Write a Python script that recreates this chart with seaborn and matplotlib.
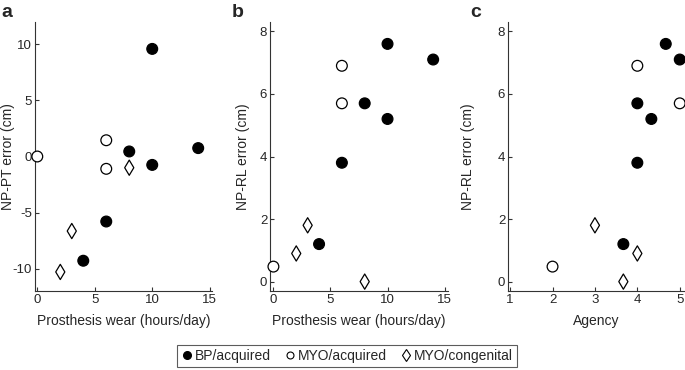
import matplotlib
matplotlib.use("Agg")
import matplotlib.pyplot as plt
from matplotlib.lines import Line2D
import pandas as pd
import seaborn as sns

# ── data ────────────────────────────────────────────────────────────────
groups = ["BP/acquired"] * 6 + ["MYO/acquired"] * 3 + ["MYO/congenital"] * 3
wear = [4, 6, 8, 10, 10, 14, 0, 6, 6, 2, 3, 8]
np_pt = [-9.3, -5.8, 0.45, 9.6, -0.75, 0.75, 0.0, 1.45, -1.1, -10.3, -6.65, -1.0]
np_rl = [1.2, 3.8, 5.7, 5.2, 7.6, 7.1, 0.48, 6.9, 5.7, 0.9, 1.8, 0.0]
agency = [3.67, 4.0, 4.0, 4.33, 4.67, 5.0, 2.0, 4.0, 5.0, 4.0, 3.0, 3.67]

df = pd.DataFrame({"group": groups, "wear": wear, "np_pt": np_pt,
                   "np_rl": np_rl, "agency": agency})

face = {"BP/acquired": "black", "MYO/acquired": "white", "MYO/congenital": "white"}
marks = {"BP/acquired": "o", "MYO/acquired": "o", "MYO/congenital": "d"}

sns.set_theme(style="ticks")
plt.rcParams["font.family"] = ["Liberation Sans", "DejaVu Sans"]
plt.rcParams["axes.unicode_minus"] = False
plt.rcParams["xtick.direction"] = "in"
plt.rcParams["ytick.direction"] = "in"

fig = plt.figure(figsize=(6.85, 3.7), dpi=100)
H = 370
boxes = [(35, 212), (270, 448), (508, 684)]
label_x = [15, 250, 475]   # right edge of the rotated y labels, in pixels
panels = [
    ("wear", "np_pt", "Prosthesis wear (hours/day)", "NP-PT error (cm)",
     (-0.2, 15.2), (-12, 12), [0, 5, 10, 15], [-10, -5, 0, 5, 10], "a"),
    ("wear", "np_rl", "Prosthesis wear (hours/day)", "NP-RL error (cm)",
     (-0.3, 15.3), (-0.3, 8.3), [0, 5, 10, 15], [0, 2, 4, 6, 8], "b"),
    ("agency", "np_rl", "Agency", "NP-RL error (cm)",
     (0.95, 5.1), (-0.3, 8.3), [1, 2, 3, 4, 5], [0, 2, 4, 6, 8], "c"),
]
tag_x = [1, 232, 470]

for (l, r), lx, tx, (xc, yc, xl, yl, xlim, ylim, xt, yt, tag) in zip(
        boxes, label_x, tag_x, panels):
    ax = fig.add_axes([l / 685, (H - 291) / H, (r - l) / 685, 269 / H])
    sns.scatterplot(data=df, x=xc, y=yc, hue="group", style="group",
                    palette=face, markers=marks, s=60, edgecolor="black",
                    linewidth=0.9, legend=False, ax=ax, clip_on=False, zorder=3)
    ax.set_xlim(*xlim)
    ax.set_ylim(*ylim)
    ax.set_xticks(xt)
    ax.set_yticks(yt)
    ax.set_xlabel(xl, fontsize=10, labelpad=6)
    ax.set_ylabel(yl, fontsize=10)
    ax.yaxis.set_label_coords((lx - l) / (r - l), 0.5)
    ax.tick_params(labelsize=9.5, length=3, width=0.8, color="#333333", pad=2)
    for s in ("top", "right"):
        ax.spines[s].set_visible(False)
    for s in ("left", "bottom"):
        ax.spines[s].set_color("#333333")
        ax.spines[s].set_linewidth(0.8)
    fig.text(tx / 685, 0.99, tag, fontsize=14, fontweight="bold",
             va="top", ha="left")

handles = [
    Line2D([], [], marker="o", ls="none", mfc="black", mec="black", ms=5.5),
    Line2D([], [], marker="o", ls="none", mfc="white", mec="black", ms=5, mew=0.8),
    Line2D([], [], marker="d", ls="none", mfc="white", mec="black", ms=6.5, mew=0.8),
]
leg = fig.legend(handles, ["BP/acquired", "MYO/acquired", "MYO/congenital"],
                 loc="center", bbox_to_anchor=(347 / 685, (H - 356) / H),
                 ncol=3, fontsize=10, frameon=True, fancybox=False,
                 handletextpad=0.15, columnspacing=1.0, borderpad=0.3,
                 handlelength=0.8)
leg.get_frame().set_edgecolor("#333333")
leg.get_frame().set_linewidth(0.8)

fig.savefig("out.png", dpi=100)
